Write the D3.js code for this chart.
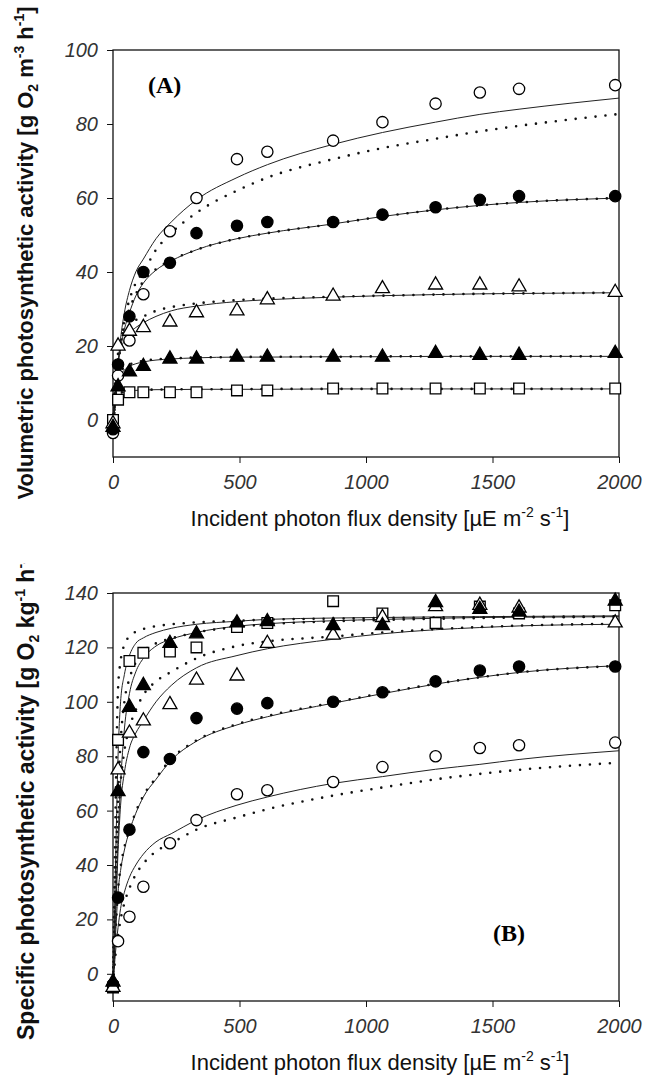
<!DOCTYPE html>
<html>
<head>
<meta charset="utf-8">
<script src="https://cdn.jsdelivr.net/npm/d3@7"></script>
<style>
  body { margin: 0; background: #fff; }
  svg { display: block; }
  .tick line { stroke: #111; }
</style>
</head>
<body>
<svg id="chart" width="645" height="1088"></svg>
<script>
// ----- data -----
const lightX = [0, 20, 65, 120, 225, 330, 490, 610, 870, 1065, 1275, 1450, 1605, 1985];
const lightTicks = [0, 500, 1000, 1500, 2000];
const volTicks = [0, 20, 40, 60, 80, 100];
const specTicks = [0, 20, 40, 60, 80, 100, 120, 140];

// panel A: volumetric activity, measured points
const volOpenCircle   = [-3.5, 12, 21.5, 34, 51, 60, 70.5, 72.5, 75.5, 80.5, 85.5, 88.5, 89.5, 90.5];
const volFilledCircle = [-2.5, 15, 28, 40, 42.5, 50.5, 52.5, 53.5, 53.5, 55.5, 57.5, 59.5, 60.5, 60.5];
const volOpenTri      = [-1, 20, 24, 25, 26.5, 29, 29.5, 32.5, 33.5, 35.5, 36.5, 36.5, 36, 34.5];
const volFilledTri    = [-2, 9, 13, 14.5, 16.5, 16.5, 17, 17, 17, 17, 18, 17.5, 17.5, 18];
const volOpenSquare   = [0, 5.5, 7.5, 7.5, 7.5, 7.5, 8, 8, 8.5, 8.5, 8.5, 8.5, 8.5, 8.5];

// panel B: specific activity, measured points
const specOpenCircle   = [-4, 12, 21, 32, 48, 56.5, 66, 67.5, 70.5, 76, 80, 83, 84, 85];
const specFilledCircle = [-4, 28, 53, 81.5, 79, 94, 97.5, 99.5, 100, 103.5, 107.5, 111.5, 113, 113];
const specOpenTri      = [-5, 75, 88.5, 93, 99, 108, 109.5, 121.5, 124.5, 131, 135, 135.5, 134.5, 129];
const specFilledTri    = [-3, 67, 98, 106, 121.5, 125, 129, 129.5, 128, 128, 136.5, 134, 133, 137];
const specOpenSquare   = [-5, 86, 115, 118, 118.5, 120, 127.5, 129, 137, 132.5, 129, 135, 132.5, 135.5];

// fitted curves, read at these light levels
const fitX = [0, 10, 20, 30, 45, 65, 90, 120, 170, 230, 330, 490, 610, 870, 1065, 1275, 1450, 1605, 2000];

const volOpenCircleFit   = [-3.5, 6, 15, 22, 29, 35, 40, 43.5, 49, 53.5, 59.5, 65.5, 69, 74.5, 77.7, 80.5, 82.6, 84, 87];
const volOpenCircleDot   = [-3.5, 6, 14, 20, 27, 32.5, 37, 40, 46, 50.5, 56, 62, 65.5, 70.5, 73.5, 76, 78, 79.5, 82.7];
const volFilledCircleFit = [-2.5, 8, 15, 19.5, 24.5, 29, 33.5, 37, 40.5, 43, 46, 49, 50.5, 53, 55, 56.8, 58, 58.8, 60];
const volFilledCircleDot = [-2.5, 8.5, 16, 20.5, 26, 30, 34, 37.5, 40.8, 43.2, 46, 49, 50.5, 53, 55, 56.8, 58, 58.8, 60];
const volOpenTriFit      = [-1, 10, 16, 19, 21.5, 23.5, 25, 26.3, 28, 29.5, 30.8, 32, 32.5, 33.2, 33.6, 33.9, 34.1, 34.2, 34.4];
const volOpenTriDot      = [-1, 12, 18, 21, 23.5, 25.5, 27, 28, 29.5, 30.5, 31.5, 32.4, 32.8, 33.3, 33.6, 33.9, 34.1, 34.2, 34.4];
const volFilledTriFit    = [-2, 6, 10, 12, 13.5, 14.5, 15.2, 15.7, 16.2, 16.5, 16.8, 17, 17, 17.1, 17.1, 17.2, 17.2, 17.2, 17.2];
const volFilledTriDot    = [-2, 7, 11, 13, 14.2, 15, 15.6, 16, 16.4, 16.6, 16.9, 17, 17.1, 17.1, 17.2, 17.2, 17.2, 17.2, 17.2];
const volOpenSquareFit   = [0, 4, 6, 7, 7.5, 7.8, 8, 8.1, 8.2, 8.2, 8.3, 8.3, 8.3, 8.4, 8.4, 8.4, 8.4, 8.4, 8.4];
const volOpenSquareDot   = [0, 4.5, 6.5, 7.3, 7.7, 7.9, 8.1, 8.2, 8.2, 8.3, 8.3, 8.3, 8.4, 8.4, 8.4, 8.4, 8.4, 8.4, 8.4];

const specOpenCircleFit   = [-4, 8, 17, 24, 30, 35.5, 40, 44, 48.5, 51.5, 56.5, 62, 65, 70, 72.5, 75.2, 77, 78.8, 82];
const specOpenCircleDot   = [-4, 7, 14, 20, 26, 31.5, 36.5, 40.5, 45, 48, 53, 57.5, 60.5, 65.5, 68.5, 71.5, 73.5, 75, 77.6];
const specFilledCircleFit = [-4, 14, 30, 38, 45.5, 52.5, 59, 65, 71.5, 78.5, 85.5, 91.5, 94.5, 99.5, 103, 106.5, 109, 110.8, 113.3];
const specFilledCircleDot = [-4, 15, 31, 39, 46.5, 53, 59.5, 65.5, 72, 79, 85.8, 91.8, 94.8, 99.7, 103.2, 106.6, 109, 110.8, 113.2];
const specOpenTriFit      = [-5, 20, 45, 62, 74, 83, 88.5, 93, 100, 106, 112.5, 117, 119.5, 123, 125, 126.5, 127.3, 127.9, 128.5];
const specOpenTriDot      = [-5, 30, 55, 70, 82, 90.5, 97, 102.5, 107.5, 111, 116, 120.5, 122.2, 124, 125.5, 126.7, 127.5, 128, 128.7];
const specFilledTriFit    = [-3, 25, 50, 70, 90, 103, 111, 116, 120.5, 123, 125.5, 127.8, 128.7, 129.8, 130.3, 130.7, 131, 131.1, 131.3];
const specFilledTriDot    = [-3, 35, 65, 85, 100, 108.5, 114.5, 118.5, 121.5, 123.3, 125.5, 127.5, 128.5, 129.6, 130.1, 130.5, 130.8, 131, 131.2];
const specOpenSquareFit   = [-5, 40, 80, 100, 110, 117, 121.5, 123.5, 125.5, 127, 128.5, 129.6, 130.3, 130.8, 131, 131.2, 131.3, 131.4, 131.6];
const specOpenSquareDot   = [-5, 60, 105, 115, 121, 124, 125.8, 126.8, 127.8, 128.5, 129.2, 129.8, 130.2, 130.6, 130.8, 131, 131.1, 131.2, 131.4];

// ----- drawing -----
const svg = d3.select("svg#chart");
const xScale = d3.scaleLinear().domain([0, 2000]).range([113, 619]);

const symbols = {
    circle:   {type: d3.symbolCircle,   size: 100},
    triangle: {type: d3.symbolTriangle, size: 85},
    square:   {type: d3.symbolSquare,   size: 115}
};

function styleTicks(a) {
    a.select(".domain").remove();
    a.selectAll("text")
        .style("font-family", "'Liberation Sans', Arial, sans-serif")
        .style("font-style", "italic")
        .style("font-size", "20px")
        .style("fill", "#333");
}

function drawPanel(p) {
    const yScale = d3.scaleLinear().domain([-10, p.yMax]).range([p.bottom, p.top]);
    const g = svg.append("g").attr("class", "panel");

    // frame
    g.append("rect")
        .attr("x", xScale(0)).attr("y", p.top)
        .attr("width", xScale(2000) - xScale(0))
        .attr("height", p.bottom - p.top)
        .attr("fill", "none").attr("stroke", "#111").attr("stroke-width", 1.3);

    const leftAxis = d3.axisLeft(yScale).tickValues(p.ticks).tickFormat(d => d)
        .tickSize(6).tickSizeOuter(0).tickPadding(9);
    g.append("g").attr("class", "y axis")
        .attr("transform", "translate(" + xScale(0) + ",0)")
        .call(leftAxis)
        .call(styleTicks);

    const bottomAxis = d3.axisBottom(xScale).tickValues(lightTicks).tickFormat(d => d)
        .tickSize(6).tickSizeOuter(0).tickPadding(12);
    g.append("g").attr("class", "x axis")
        .attr("transform", "translate(0," + p.bottom + ")")
        .call(bottomAxis)
        .call(styleTicks);

    const line = d3.line()
        .x((d, i) => xScale(fitX[i]))
        .y(d => yScale(d))
        .curve(d3.curveMonotoneX);

    p.series.forEach(s => {
        g.append("path").datum(s.fit)
            .attr("d", line)
            .attr("fill", "none").attr("stroke", "#222").attr("stroke-width", 1);
        g.append("path").datum(s.dot)
            .attr("d", line)
            .attr("fill", "none").attr("stroke", "#111")
            .attr("stroke-width", 2.6).attr("stroke-linecap", "round")
            .attr("stroke-dasharray", "0,10");
    });

    p.series.forEach(s => {
        const sym = symbols[s.shape];
        g.append("g").selectAll("path").data(s.values)
            .join("path")
            .attr("transform", (d, i) => "translate(" + xScale(lightX[i]) + "," + yScale(d) + ")")
            .attr("d", d3.symbol().type(sym.type).size(sym.size))
            .attr("fill", s.filled ? "#000" : "#fff")
            .attr("stroke", "#000").attr("stroke-width", 1.3);
    });

    g.append("text")
        .attr("x", p.labelX).attr("y", p.labelY)
        .attr("font-family", "'Liberation Serif', 'Times New Roman', serif")
        .attr("font-weight", "bold").attr("font-size", 24)
        .text(p.label);

    // x title
    const xt = g.append("text")
        .attr("x", 380).attr("y", p.bottom + 69)
        .attr("text-anchor", "middle")
        .attr("font-family", "'Liberation Sans', Arial, sans-serif")
        .attr("font-size", 22).attr("fill", "#111");
    xt.append("tspan").text("Incident photon flux density [\u00b5E m");
    xt.append("tspan").attr("font-size", 14).attr("dy", -9).text("-2");
    xt.append("tspan").attr("dy", 9).text(" s");
    xt.append("tspan").attr("font-size", 14).attr("dy", -9).text("-1");
    xt.append("tspan").attr("dy", 9).text("]");

    // y title, clipped at the top like the scanned figure
    const clipId = "clip" + p.label.replace(/\W/g, "");
    svg.append("clipPath").attr("id", clipId)
        .append("rect").attr("x", 0).attr("y", p.clipTop).attr("width", 70).attr("height", 1088);
    const yt = g.append("g").attr("clip-path", "url(#" + clipId + ")")
        .append("text")
        .attr("transform", "translate(" + p.titleX + "," + p.titleY + ") rotate(-90)")
        .attr("text-anchor", p.titleAnchor)
        .attr("font-family", "'Liberation Sans', Arial, sans-serif")
        .attr("font-weight", "bold").attr("font-size", p.titleSize).attr("fill", "#111");
    p.title.forEach(t => {
        const ts = yt.append("tspan").text(t.text);
        if (t.sub) ts.attr("font-size", 14).attr("dy", 5);
        if (t.sup) ts.attr("font-size", 14).attr("dy", -9);
        if (t.back) ts.attr("dy", t.back);
    });
}

drawPanel({
    label: "(A)", labelX: 148, labelY: 93,
    top: 50, bottom: 457, yMax: 100, ticks: volTicks,
    titleX: 33, titleY: 253, titleSize: 22, titleAnchor: "middle", clipTop: 0,
    title: [
        {text: "Volumetric photosynthetic activity [g O"},
        {text: "2", sub: true},
        {text: " m", back: -5},
        {text: "-3", sup: true},
        {text: " h", back: 9},
        {text: "-1", sup: true},
        {text: "]", back: 9}
    ],
    series: [
        {values: volOpenCircle,   fit: volOpenCircleFit,   dot: volOpenCircleDot,   shape: "circle",   filled: false},
        {values: volFilledCircle, fit: volFilledCircleFit, dot: volFilledCircleDot, shape: "circle",   filled: true},
        {values: volOpenSquare,   fit: volOpenSquareFit,   dot: volOpenSquareDot,   shape: "square",   filled: false},
        {values: volOpenTri,      fit: volOpenTriFit,      dot: volOpenTriDot,      shape: "triangle", filled: false},
        {values: volFilledTri,    fit: volFilledTriFit,    dot: volFilledTriDot,    shape: "triangle", filled: true}
    ]
});

drawPanel({
    label: "(B)", labelX: 493, labelY: 941,
    top: 593, bottom: 1001, yMax: 140, ticks: specTicks,
    titleX: 34, titleY: 1040, titleSize: 23, titleAnchor: "start", clipTop: 563,
    title: [
        {text: "Specific photosynthetic activity [g O"},
        {text: "2", sub: true},
        {text: " kg", back: -5},
        {text: "-1", sup: true},
        {text: " h", back: 9},
        {text: "-1", sup: true},
        {text: "]", back: 9}
    ],
    series: [
        {values: specOpenCircle,   fit: specOpenCircleFit,   dot: specOpenCircleDot,   shape: "circle",   filled: false},
        {values: specFilledCircle, fit: specFilledCircleFit, dot: specFilledCircleDot, shape: "circle",   filled: true},
        {values: specOpenSquare,   fit: specOpenSquareFit,   dot: specOpenSquareDot,   shape: "square",   filled: false},
        {values: specOpenTri,      fit: specOpenTriFit,      dot: specOpenTriDot,      shape: "triangle", filled: false},
        {values: specFilledTri,    fit: specFilledTriFit,    dot: specFilledTriDot,    shape: "triangle", filled: true}
    ]
});
</script>
</body>
</html>
